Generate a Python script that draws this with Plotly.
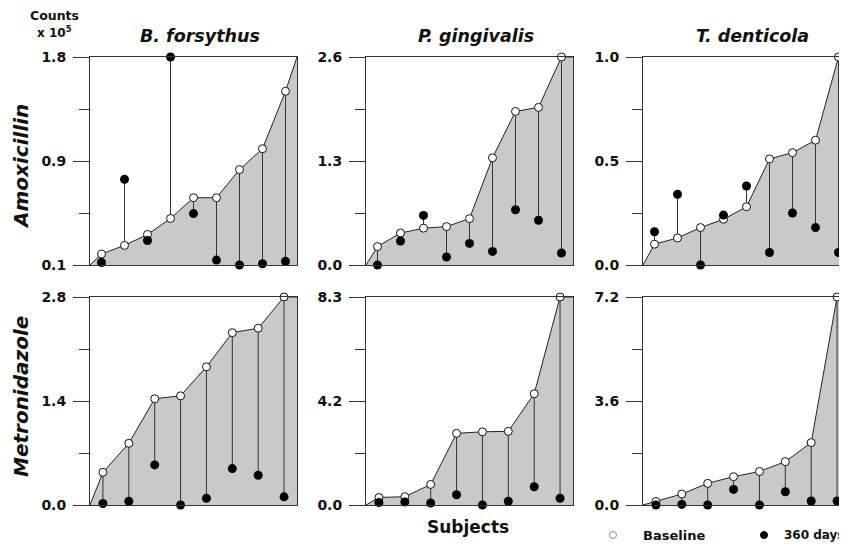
import plotly.graph_objects as go

W, H = 847, 547
# the page body adds an 8px margin; positions below are given in screen pixels
OFF = 8

# ---------------- data ----------------
species = ["B. forsythus", "P. gingivalis", "T. denticola"]
drugs = ["Amoxicillin", "Metronidazole"]

bf_amox_base = [0.19, 0.26, 0.35, 0.48, 0.65, 0.65, 0.88, 1.05, 1.52]
bf_amox_360 = [0.12, 0.80, 0.30, 1.80, 0.52, 0.14, 0.10, 0.11, 0.13]
pg_amox_base = [0.23, 0.40, 0.46, 0.48, 0.58, 1.34, 1.92, 1.97, 2.60]
pg_amox_360 = [0.00, 0.30, 0.62, 0.10, 0.27, 0.17, 0.69, 0.56, 0.15]
td_amox_base = [0.10, 0.13, 0.18, 0.22, 0.28, 0.51, 0.54, 0.60, 1.00]
td_amox_360 = [0.16, 0.34, 0.00, 0.24, 0.38, 0.06, 0.25, 0.18, 0.06]

bf_metro_base = [0.44, 0.83, 1.43, 1.47, 1.86, 2.32, 2.38, 2.80]
bf_metro_360 = [0.02, 0.05, 0.54, 0.00, 0.09, 0.49, 0.40, 0.11]
pg_metro_base = [0.30, 0.33, 0.82, 2.86, 2.92, 2.94, 4.44, 8.30]
pg_metro_360 = [0.10, 0.12, 0.08, 0.41, 0.00, 0.15, 0.73, 0.27]
td_metro_base = [0.12, 0.38, 0.75, 0.98, 1.16, 1.50, 2.16, 7.20]
td_metro_360 = [0.00, 0.02, 0.00, 0.54, 0.00, 0.46, 0.14, 0.14]

# axis extents and tick labels (min, middle, max)
y_ranges = [[0.1, 1.8], [0.0, 2.6], [0.0, 1.0],
            [0.0, 2.8], [0.0, 8.3], [0.0, 7.2]]
tick_labels = [["0.1", "0.9", "1.8"], ["0.0", "1.3", "2.6"], ["0.0", "0.5", "1.0"],
               ["0.0", "1.4", "2.8"], ["0.0", "4.2", "8.3"], ["0.0", "3.6", "7.2"]]

panels = [
    (bf_amox_base, bf_amox_360), (pg_amox_base, pg_amox_360), (td_amox_base, td_amox_360),
    (bf_metro_base, bf_metro_360), (pg_metro_base, pg_metro_360), (td_metro_base, td_metro_360),
]

# ---------------- layout geometry (screen pixels) ----------------
col_px = [(90, 297), (366, 573), (643, 850)]
row_px = [(57, 265), (297, 505)]

FONT = "DejaVu Sans"
DARK = "#222222"
FILL = "#c9c9c9"

def fx(px):
    return (px - OFF) / W

def fy(py):
    return 1 - (py - OFF) / H

fig = go.Figure()
layout = {}

for k, (base, d360) in enumerate(panels):
    r, c = divmod(k, 3)
    n = len(base)
    ymin, ymax = y_ranges[k]
    xs = [i + 0.5 for i in range(n)]
    ax = "" if k == 0 else str(k + 1)
    xref, yref = "x" + ax, "y" + ax

    # filled area under baseline curve (starts at axis min, ends at axis max)
    fig.add_trace(go.Scatter(
        x=[0] + xs + [n], y=[ymin] + base + [ymax],
        mode="lines", fill="tozeroy", fillcolor=FILL,
        line=dict(color=DARK, width=1), hoverinfo="skip",
        showlegend=False, xaxis=xref, yaxis=yref))

    # stems linking baseline and 360-day values
    sx, sy = [], []
    for xi, b, d in zip(xs, base, d360):
        sx += [xi, xi, None]
        sy += [b, d, None]
    fig.add_trace(go.Scatter(
        x=sx, y=sy, mode="lines", line=dict(color="#333333", width=1),
        hoverinfo="skip", showlegend=False, xaxis=xref, yaxis=yref))

    fig.add_trace(go.Scatter(
        x=xs, y=base, mode="markers", name="Baseline",
        marker=dict(symbol="circle", size=8, color="white",
                    line=dict(color="#111111", width=1)),
        cliponaxis=False, showlegend=False, xaxis=xref, yaxis=yref))
    fig.add_trace(go.Scatter(
        x=xs, y=d360, mode="markers", name="360 days",
        marker=dict(symbol="circle", size=9, color="#000000",
                    line=dict(color="#000000", width=0)),
        cliponaxis=False, showlegend=False, xaxis=xref, yaxis=yref))

    x0p, x1p = col_px[c]
    y0p, y1p = row_px[r]
    span = ymax - ymin
    major = [ymin, ymin + span / 2, ymax]
    minor = [ymin + span / 4, ymin + 3 * span / 4]

    layout["xaxis" + ax] = dict(
        domain=[fx(x0p), min(fx(x1p), 1.0)], range=[0, n], anchor=yref,
        showline=True, linecolor="#333333", linewidth=1,
        mirror=True, ticks="", showticklabels=False, showgrid=False,
        zeroline=False, fixedrange=True, automargin=False)
    layout["yaxis" + ax] = dict(
        domain=[fy(y1p), fy(y0p)], range=[ymin, ymax], anchor=xref,
        showline=True, linecolor="#333333", linewidth=1,
        mirror=True, showgrid=False, zeroline=False,
        tickmode="array", tickvals=major, ticktext=tick_labels[k],
        ticks="outside", ticklen=16, tickwidth=1, tickcolor="#333333",
        minor=dict(tickmode="array", tickvals=minor, ticks="outside",
                   ticklen=10, tickwidth=1, tickcolor="#333333"),
        tickfont=dict(family=FONT, size=14, color="#111111", weight="bold"),
        ticklabelstandoff=4, fixedrange=True, automargin=False)

annotations = []

def px_ann(text, x, y, size, xanchor="center", angle=0, italic=False):
    t = f"<i>{text}</i>" if italic else text
    annotations.append(dict(
        text=t, x=fx(x), y=fy(y), xref="paper", yref="paper",
        xanchor=xanchor, yanchor="middle", showarrow=False, textangle=angle,
        font=dict(family=FONT, size=size, color="#111111", weight="bold")))

for c, name in enumerate(species):
    x0p, x1p = col_px[c]
    px_ann(name, (x0p + x1p) / 2 + 6, 36, 17.5, italic=True)

px_ann("Amoxicillin", 21, 167, 20, angle=-90, italic=True)
px_ann("Metronidazole", 21, 397, 20, angle=-90, italic=True)
px_ann("Counts", 54, 16, 12.5)
px_ann("x 10<sup>5</sup>", 54, 32, 12)
px_ann("Subjects", 468, 527, 17)
px_ann("Baseline", 641, 535, 13, xanchor="left")
px_ann("360 days", 782, 535, 12, xanchor="left")

def circle(cx, cy, d, fill, line):
    return dict(type="circle", xref="paper", yref="paper",
                x0=fx(cx - d / 2), x1=fx(cx + d / 2),
                y0=fy(cy + d / 2), y1=fy(cy - d / 2),
                fillcolor=fill, line=dict(color=line, width=1))

shapes = [circle(613, 535, 7, "white", "#888888"),
          circle(764, 535, 7, "black", "black")]

fig.update_layout(
    width=W, height=H, margin=dict(l=0, r=0, t=0, b=0, autoexpand=False),
    paper_bgcolor="white", plot_bgcolor="white",
    showlegend=False, annotations=annotations, shapes=shapes,
    **layout)

fig.write_html("out.html")
